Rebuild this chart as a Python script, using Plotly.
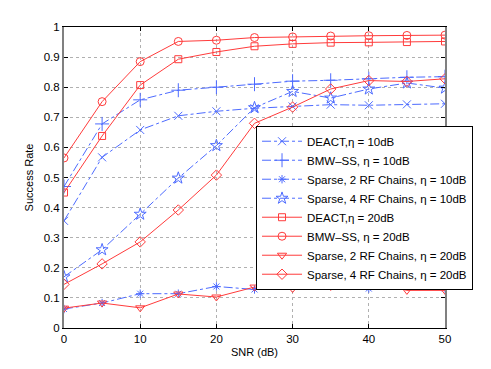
import plotly.graph_objects as go

snr = [0, 5, 10, 15, 20, 25, 30, 35, 40, 45, 50]

deact_10 = [0.356, 0.567, 0.658, 0.705, 0.72, 0.73, 0.736, 0.742, 0.74, 0.743, 0.745]
bmw_10 = [0.47, 0.678, 0.758, 0.79, 0.80, 0.81, 0.82, 0.823, 0.828, 0.833, 0.835]
sp2_10 = [0.063, 0.083, 0.114, 0.114, 0.138, 0.128, 0.164, 0.145, 0.131, 0.175, 0.131]
sp4_10 = [0.17, 0.26, 0.378, 0.498, 0.606, 0.732, 0.786, 0.764, 0.794, 0.814, 0.797]
deact_20 = [0.45, 0.638, 0.807, 0.893, 0.917, 0.936, 0.944, 0.948, 0.949, 0.95, 0.952]
bmw_20 = [0.565, 0.752, 0.885, 0.952, 0.956, 0.965, 0.967, 0.97, 0.971, 0.972, 0.973]
sp2_20 = [0.066, 0.083, 0.067, 0.113, 0.103, 0.136, 0.131, 0.138, 0.156, 0.125, 0.125]
sp4_20 = [0.145, 0.213, 0.286, 0.392, 0.508, 0.68, 0.734, 0.794, 0.822, 0.819, 0.828]

blue = "#4d6bff"
red = "#ff3b3b"

series = [
    ("DEACT,\u03b7 = 10dB", deact_10, blue, "dashdot", "x-thin-open", 8),
    ("BMW\u2013SS, \u03b7 = 10dB", bmw_10, blue, "dashdot", "cross-thin-open", 10),
    ("Sparse, 2 RF Chains, \u03b7 = 10dB", sp2_10, blue, "dashdot", "asterisk-open", 7),
    ("Sparse, 4 RF Chains, \u03b7 = 10dB", sp4_10, blue, "dashdot", "star-open", 9),
    ("DEACT,\u03b7 = 20dB", deact_20, red, "solid", "square-open", 7),
    ("BMW\u2013SS, \u03b7 = 20dB", bmw_20, red, "solid", "circle-open", 8),
    ("Sparse, 2 RF Chains, \u03b7 = 20dB", sp2_20, red, "solid", "triangle-down-open", 8),
    ("Sparse, 4 RF Chains, \u03b7 = 20dB", sp4_20, red, "solid", "diamond-open", 8),
]

fig = go.Figure()
for name, vals, col, dash, sym, sz in series:
    fig.add_trace(go.Scatter(
        x=snr, y=vals, name=name, mode="lines+markers",
        line=dict(color=col, width=1, dash=dash),
        marker=dict(symbol=sym, size=sz, color=col, line=dict(color=col, width=1)),
    ))

axis_common = dict(
    showline=True, mirror="ticks", automargin=False,
    ticks="inside", ticklen=4, tickcolor="black",
    showgrid=True, gridcolor="#b0b0b0", griddash="dot", gridwidth=1,
    zeroline=False, tickfont=dict(size=11.5, color="black"),
)

fig.update_xaxes(range=[0, 50], dtick=10, linecolor="black", linewidth=1,
                 title=dict(text="SNR (dB)", font=dict(size=11), standoff=4), **axis_common)
fig.update_yaxes(range=[0, 1], dtick=0.1, tickformat="~g", linecolor="#808080", linewidth=2,
                 title=dict(text="Success Rate", font=dict(size=11), standoff=8), **axis_common)

# page body adds an 8px offset, so margins are shifted to compensate
fig.update_layout(
    width=491, height=369,
    margin=dict(l=56, r=54, t=19, b=49),
    paper_bgcolor="white", plot_bgcolor="white",
    font=dict(family="Liberation Sans, Arial, sans-serif", size=12, color="black"),
    showlegend=True,
    legend=dict(
        x=0.504, y=0.672, xanchor="left", yanchor="top",
        bgcolor="white", bordercolor="black", borderwidth=1,
        font=dict(size=11.5), itemwidth=40, tracegroupgap=0,
    ),
)

fig.write_html("out.html")
